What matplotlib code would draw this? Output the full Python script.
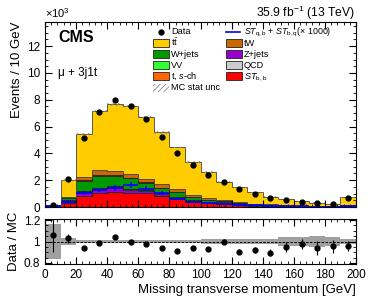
import numpy as np
import matplotlib
matplotlib.use("Agg")
import matplotlib.pyplot as plt
from matplotlib.patches import Rectangle
from matplotlib.lines import Line2D
from matplotlib.ticker import MultipleLocator

plt.rcParams["font.family"] = ["Liberation Sans", "DejaVu Sans"]
plt.rcParams["mathtext.fontset"] = "custom"
plt.rcParams["mathtext.rm"] = "Liberation Sans"
plt.rcParams["mathtext.it"] = "Liberation Sans:italic"
plt.rcParams["mathtext.bf"] = "Liberation Sans:bold"
plt.rcParams["hatch.linewidth"] = 0.6

# --- data (events in units of 10^3, 10 GeV bins) ---
bin_edges = np.arange(0, 210, 10)

st_bb = [0.03, 0.27, 0.80, 1.05, 1.12, 1.07, 1.03, 0.84, 0.60, 0.40,
         0.30, 0.24, 0.17, 0.11, 0.08, 0.06, 0.04, 0.03, 0.02, 0.04]
zjets = [0.01, 0.15, 0.28, 0.27, 0.32, 0.22, 0.19, 0.14, 0.10, 0.06,
         0.04, 0.03, 0.03, 0.02, 0.01, 0.01, 0.01, 0.01, 0.01, 0.01]
qcd = [0.01, 0.06, 0.05, 0.05, 0.05, 0.04, 0.03, 0.03, 0.02, 0.01,
       0.01, 0.01, 0.01, 0.0, 0.0, 0.0, 0.0, 0.0, 0.0, 0.0]
vv = [0.0, 0.02, 0.04, 0.05, 0.05, 0.04, 0.04, 0.03, 0.02, 0.02,
      0.01, 0.01, 0.01, 0.01, 0.0, 0.0, 0.0, 0.0, 0.0, 0.0]
wjets = [0.02, 0.20, 0.78, 0.92, 0.77, 0.76, 0.50, 0.37, 0.35, 0.23,
         0.16, 0.12, 0.09, 0.06, 0.05, 0.04, 0.03, 0.02, 0.02, 0.05]
schan = [0.0, 0.02, 0.04, 0.05, 0.05, 0.04, 0.04, 0.03, 0.02, 0.02,
         0.02, 0.01, 0.01, 0.01, 0.01, 0.0, 0.0, 0.0, 0.0, 0.0]
tw = [0.0, 0.06, 0.26, 0.36, 0.33, 0.29, 0.25, 0.27, 0.21, 0.15,
      0.11, 0.09, 0.07, 0.05, 0.04, 0.03, 0.02, 0.02, 0.01, 0.04]
ttbar = [0.05, 1.22, 3.18, 4.42, 4.97, 5.08, 4.64, 3.85, 3.12, 2.48,
         1.95, 1.37, 1.07, 0.83, 0.58, 0.43, 0.32, 0.24, 0.16, 0.58]

mc_rel_unc = [0.16, 0.035, 0.015, 0.012, 0.012, 0.012, 0.013, 0.015, 0.015, 0.018,
              0.02, 0.02, 0.02, 0.025, 0.025, 0.04, 0.04, 0.05, 0.04, 0.025]

data = [0.127, 2.06, 5.12, 7.10, 7.97, 7.54, 6.55, 5.23, 4.04, 3.17,
        2.42, 1.88, 1.32, 1.00, 0.69, 0.54, 0.41, 0.30, 0.21, 0.69]
data_rel_err = [0.15, 0.04, 0.01, 0.01, 0.01, 0.01, 0.01, 0.012, 0.012, 0.015,
                0.015, 0.02, 0.028, 0.03, 0.035, 0.05, 0.05, 0.07, 0.065, 0.045]

st_qb = [0.10, 0.40, 1.05, 1.26, 1.42, 1.62, 1.38, 1.04, 0.62, 0.40,
         0.30, 0.24, 0.17, 0.12, 0.09, 0.07, 0.05, 0.03, 0.03, 0.06]
st_qb_err = [0.05, 0.10, 0.15, 0.17, 0.20, 0.22, 0.20, 0.17, 0.12, 0.08,
             0.06, 0.05, 0.04, 0.03, 0.03, 0.02, 0.02, 0.02, 0.02, 0.03]

# stack order: bottom -> top
stack = [
    (st_bb, "#ff0000"),
    (zjets, "#9900cc"),
    (qcd, "#cccccc"),
    (vv, "#33ff33"),
    (wjets, "#009900"),
    (schan, "#ff6600"),
    (tw, "#cc6600"),
    (ttbar, "#ffcc00"),
]

centers = 0.5 * (bin_edges[:-1] + bin_edges[1:])
half_w = 0.5 * np.diff(bin_edges)
data = np.array(data)
mc_rel_unc = np.array(mc_rel_unc)

# --- figure layout (pixel based) ---
W, H = 374, 307
fig = plt.figure(figsize=(W / 100, H / 100), dpi=100)

def fx(px):
    return px / W

def fy(py):
    return 1 - py / H

ax = fig.add_axes([fx(45), fy(207), fx(356) - fx(45), fy(22) - fy(207)])
rax = fig.add_axes([fx(45), fy(264), fx(356) - fx(45), fy(219) - fy(264)])

# stacked MC
bottom = np.zeros(len(centers))
for vals, col in stack:
    top = bottom + np.array(vals)
    ec = "#444444" if col == "#ffcc00" else "#222222"
    ax.stairs(top, bin_edges, baseline=bottom, fill=True,
              facecolor=col, edgecolor=ec, lw=0.6)
    bottom = top
total = bottom

# MC stat unc hatch
ax.stairs(total * (1 + mc_rel_unc), bin_edges, baseline=total * (1 - mc_rel_unc),
          fill=True, facecolor="none", edgecolor="#888888", hatch="//////", lw=0)

# ST_qb + ST_bq (x1000)
ax.errorbar(centers, st_qb, xerr=half_w, yerr=st_qb_err, fmt="none",
            ecolor="#0000ff", elinewidth=1.2)

# data
ax.errorbar(centers, data, yerr=data * np.array(data_rel_err), fmt="o",
            color="k", ms=3.5, lw=0.8, capsize=0)

ax.set_xlim(0, 200)
ax.set_ylim(0, 13.8)
ax.yaxis.set_major_locator(MultipleLocator(2))
ax.yaxis.set_minor_locator(MultipleLocator(0.5))
ax.xaxis.set_major_locator(MultipleLocator(20))
ax.xaxis.set_minor_locator(MultipleLocator(4))
ax.tick_params(which="both", direction="in", top=True, right=True,
               labelbottom=False, labelsize=8.5)
ax.tick_params(which="major", length=5)
ax.tick_params(which="minor", length=2.5)
ax.set_ylabel("Events / 10 GeV", fontsize=9.5, loc="top", labelpad=3)

# ratio panel
ratio = data / total
rax.stairs(1 + mc_rel_unc, bin_edges, baseline=1 - mc_rel_unc, fill=True,
           color="#a0a0a0", lw=0)
rax.axhline(1, color="k", ls="--", lw=0.7, dashes=(2.5, 1.5))
rax.errorbar(centers, ratio, yerr=ratio * np.array(data_rel_err), fmt="o",
             color="k", ms=3.5, lw=0.8, capsize=0)
rax.set_xlim(0, 200)
rax.set_ylim(0.79, 1.21)
rax.set_yticks([0.8, 1.0, 1.2])
rax.set_yticklabels(["0.8", "1", "1.2"])
rax.yaxis.set_minor_locator(MultipleLocator(0.05))
rax.xaxis.set_major_locator(MultipleLocator(20))
rax.xaxis.set_minor_locator(MultipleLocator(4))
rax.tick_params(which="both", direction="in", top=True, right=True, labelsize=8.5)
rax.tick_params(which="major", length=5)
rax.tick_params(which="minor", length=2.5)
rax.set_xlabel("Missing transverse momentum [GeV]", fontsize=9.5, loc="right", labelpad=2)
rax.set_ylabel("Data / MC", fontsize=9.5, labelpad=3)

# texts
fig.text(fx(45), fy(18), r"$\times10^{3}$", fontsize=8, ha="left", va="baseline")
fig.text(fx(355), fy(17), r"35.9 fb$^{-1}$ (13 TeV)", fontsize=8.7, ha="right", va="baseline")
fig.text(fx(58), fy(42), "CMS", fontsize=11.5, fontweight="bold", ha="left", va="baseline")
fig.text(fx(58), fy(76), "μ + 3j1t", fontsize=8.5, ha="left", va="baseline")

# legend, drawn by hand in two columns (ROOT-style)
leg1 = [("marker", "k", "Data"),
        ("box", "#ffcc00", r"$\mathrm{t\bar{t}}$"),
        ("box", "#009900", "W+jets"),
        ("box", "#33ff33", "VV"),
        ("box", "#ff6600", r"t, $s$-ch"),
        ("hatch", "#888888", "MC stat unc")]
leg2 = [("line", "#0000ff", r"$ST_{\mathrm{q,b}}$ + $ST_{\mathrm{b,q}}$($\times$ 1000)"),
        ("box", "#cc6600", "tW"),
        ("box", "#9900cc", "Z+jets"),
        ("box", "#cccccc", "QCD"),
        ("box", "#ff0000", r"$ST_{\mathrm{b,b}}$")]
row0, pitch = 32.0, 11.1
for x0, entries in [(153, leg1), (226, leg2)]:
    for i, (kind, col, lab) in enumerate(entries):
        yc = row0 + i * pitch
        size = 6.6
        if kind == "box":
            fig.patches.append(Rectangle((fx(x0), fy(yc + 4)), fx(16), 8 / H,
                                         transform=fig.transFigure, facecolor=col,
                                         edgecolor="#222222", lw=0.6))
        elif kind == "hatch":
            fig.patches.append(Rectangle((fx(x0), fy(yc + 4)), fx(16), 8 / H,
                                         transform=fig.transFigure, facecolor="none",
                                         edgecolor=col, hatch="//////", lw=0))
        elif kind == "line":
            fig.lines.append(Line2D([fx(x0), fx(x0 + 14)], [fy(yc), fy(yc)],
                                    transform=fig.transFigure, color=col, lw=1.2))
            size = 6.4
        else:
            fig.lines.append(Line2D([fx(x0 + 8)], [fy(yc)], transform=fig.transFigure,
                                    marker="o", color=col, ms=3.5, ls="none"))
        fig.text(fx(x0 + 18), fy(yc + 2.4), lab, fontsize=size, ha="left", va="baseline")

fig.savefig("out.png", dpi=100)
